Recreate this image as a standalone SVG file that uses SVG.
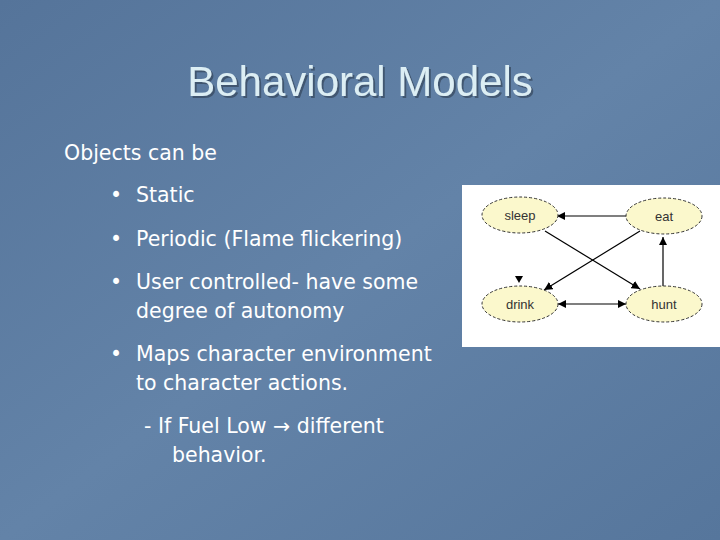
<svg xmlns="http://www.w3.org/2000/svg" width="720" height="540" viewBox="0 0 720 540">
<defs>
<linearGradient id="bg" x1="0" y1="0" x2="1" y2="1"><stop offset="0" stop-color="#55749a"/><stop offset="0.5" stop-color="#6383a8"/><stop offset="1" stop-color="#56769c"/></linearGradient>
<marker id="ah" viewBox="0 0 10 10" refX="10" refY="5" markerWidth="7" markerHeight="7" orient="auto-start-reverse"><path d="M0,0 L10,5 L0,10 z" fill="#000"/></marker>
<filter id="sh" x="-5%" y="-20%" width="110%" height="140%"><feDropShadow dx="2" dy="2" stdDeviation="0.5" flood-color="#2a3a50" flood-opacity="0.6"/></filter>
</defs>
<style>
.t{font-family:"DejaVu Sans",Verdana,sans-serif;fill:#fff;font-size:20.5px}
.n ellipse{fill:#fbf8cc;stroke:#333;stroke-width:1;stroke-dasharray:3 2}
.n text{font-family:"Liberation Sans",Arial,sans-serif;font-size:13px;fill:#333;text-anchor:middle}
.e line{stroke:#000;stroke-width:1.2;marker-end:url(#ah)}
</style>
<rect width="720" height="540" fill="url(#bg)"/>
<text x="360" y="96" text-anchor="middle" font-family="Liberation Sans,Arial,sans-serif" font-size="42" fill="#dceef4" filter="url(#sh)">Behavioral Models</text>
<text class="t" x="64" y="160">Objects can be</text>
<text class="t" x="110" y="202">•</text><text class="t" x="136" y="202">Static</text>
<text class="t" x="110" y="246">•</text><text class="t" x="136" y="246">Periodic (Flame flickering)</text>
<text class="t" x="110" y="289">•</text><text class="t" x="136" y="289">User controlled- have some</text>
<text class="t" x="136" y="318">degree of autonomy</text>
<text class="t" x="110" y="361">•</text><text class="t" x="136" y="361">Maps character environment</text>
<text class="t" x="136" y="390">to character actions.</text>
<text class="t" x="144" y="433">- If Fuel Low → different</text>
<text class="t" x="172" y="462">behavior.</text>
<rect x="462" y="185" width="258" height="162" fill="#fff"/>
<g class="e" id="connectors">
<line x1="627" y1="216" x2="557" y2="216"/>
<line x1="545" y1="231" x2="640" y2="289"/>
<line x1="640" y1="231" x2="544" y2="290"/>
<line x1="663" y1="287" x2="663" y2="237"/>
<line x1="558" y1="304" x2="626" y2="304" marker-start="url(#ah)"/>
<path d="M515,276 L523,276 L519,283 z" fill="#000"/>
</g>
<g class="n" id="sleep"><ellipse cx="520" cy="215" rx="38" ry="18"/><text x="520" y="220">sleep</text></g>
<g class="n" id="eat"><ellipse cx="664" cy="216" rx="38" ry="18"/><text x="664" y="221">eat</text></g>
<g class="n" id="drink"><ellipse cx="520" cy="304" rx="38" ry="18"/><text x="520" y="309">drink</text></g>
<g class="n" id="hunt"><ellipse cx="664" cy="304" rx="38" ry="18"/><text x="664" y="309">hunt</text></g>
</svg>
